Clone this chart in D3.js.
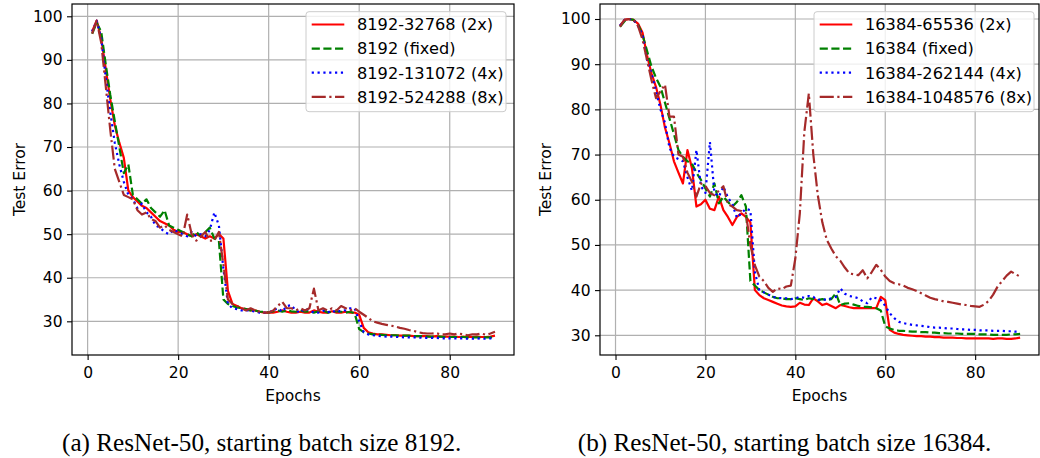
<!DOCTYPE html>
<html>
<head>
<meta charset="utf-8">
<script src="https://cdn.jsdelivr.net/npm/d3@7.9.0/dist/d3.min.js"></script>
<style>
  html, body { margin: 0; padding: 0; background: #fff; }
  svg { display: block; }
  .tick text { font-family: 'DejaVu Sans', sans-serif; font-size: 15.5px; fill: #000; }
</style>
</head>
<body>
<svg id="chart" width="1040" height="458"></svg>
<script>
// epochs 1..90
const epochs = d3.range(1, 91);
const yTicks = [30, 40, 50, 60, 70, 80, 90, 100];
const xTicks = [0, 20, 40, 60, 80];

// (a) starting batch size 8192
const a2x = [
  96.5, 99, 95, 88, 81, 75, 71, 67.5, 60, 58.5,
  57.5, 56.5, 56, 55, 54, 53, 52.5, 52, 51, 50.5,
  50.5, 50, 49.5, 50, 49.5, 49, 49.5, 49, 50, 49,
  37, 34, 33.5, 33, 32.8, 32.5, 32.5, 32.2, 32, 32,
  32, 32.2, 32.5, 32.2, 32, 32, 32.2, 32, 32, 32.5,
  32.2, 32, 32, 32.3, 32, 32, 32.2, 32, 32, 31.5,
  28.5, 27.5, 27.2, 27, 27, 26.9, 26.8, 26.8, 26.7, 26.7,
  26.7, 26.6, 26.6, 26.6, 26.6, 26.5, 26.6, 26.5, 26.5, 26.5,
  26.5, 26.4, 26.5, 26.4, 26.4, 26.5, 26.4, 26.4, 26.5, 26.7
];
const aFixed = [
  96, 98.5, 96.5, 89, 82, 76, 70, 64, 66, 59,
  58, 57, 58, 56, 55, 54, 55.5, 52, 51.5, 51,
  50.5, 50, 49.5, 50.5, 49.5, 50.5, 51.5, 49, 48.5, 35,
  34, 33.5, 33.2, 33, 32.8, 32.5, 32.5, 32.2, 32.2, 32,
  32.3, 32.5, 32.2, 32.5, 32.3, 32.2, 32.5, 32.2, 32.3, 32,
  32.3, 32.5, 32, 32.2, 32.3, 32.2, 32, 32.2, 31.8, 28.2,
  27.5, 27.2, 27, 27, 26.9, 26.8, 26.8, 26.8, 26.7, 26.7,
  26.7, 26.6, 26.6, 26.6, 26.5, 26.5, 26.5, 26.5, 26.4, 26.4,
  26.4, 26.4, 26.4, 26.3, 26.3, 26.3, 26.3, 26.3, 26.3, 26.3
];
const a4x = [
  96.5, 99, 95, 86, 78, 71, 66, 62, 59, 58,
  56, 57, 55, 54, 52, 51.5, 50.5, 50, 51, 50.5,
  50, 49.5, 50.5, 49.5, 50, 49.5, 51, 55, 52, 42,
  34, 33, 32.8, 32.5, 32.5, 32.5, 32.2, 32, 32, 32,
  32.5, 33, 32.2, 33.5, 33.7, 32.5, 32, 33, 32.5, 32,
  32, 32.5, 32, 32.5, 32, 32.5, 32.5, 33, 33, 30,
  27.5, 27, 26.8, 26.7, 26.6, 26.5, 26.5, 26.4, 26.4, 26.3,
  26.3, 26.3, 26.3, 26.2, 26.2, 26.2, 26.2, 26.1, 26.1, 26.1,
  26.1, 26.1, 26.1, 26, 26, 26.1, 26, 26, 26.1, 26.1
];
const a8x = [
  96, 99, 94, 84, 74, 65, 62, 59, 58.5, 58,
  55.5, 54.5, 55, 53.5, 53, 51.5, 52, 51, 50.5, 50,
  49.5, 54.5, 50, 48.5, 49.5, 50.5, 48.5, 48.5, 50.5, 43,
  35, 34, 33.5, 33, 32.5, 33, 32.5, 32.2, 32, 32,
  32.5, 33.5, 34.5, 33, 33, 32.5, 33, 32.5, 33, 37.5,
  32.5, 33, 32.5, 33, 32.5, 33.5, 33, 32.5, 33, 32.2,
  31.5, 30.8, 30, 29.7, 29.4, 29.2, 29, 28.8, 28.5, 28.3,
  28, 27.8, 27.5, 27.3, 27.2, 27.2, 27.3, 27, 27, 27.2,
  27, 27.2, 27, 26.8, 27, 27, 27.2, 26.9, 27.2, 27.6
];

// (b) starting batch size 16384
const b2x = [
  98.5, 99.8, 100, 99.8, 99, 97, 92, 88, 85, 81,
  76, 72.5, 68.5, 66, 63.6, 71, 67, 58.5, 59, 60,
  58, 57.7, 60.7, 57.7, 56.2, 54.4, 56.2, 57, 56.2, 55,
  40, 38.9, 38.2, 37.8, 37.4, 37, 36.6, 36.4, 36.3, 36.4,
  37.2, 36.8, 36.7, 38.2, 37.5, 36.7, 37, 36.5, 36, 36.7,
  36.5, 36.2, 36, 36, 36, 36, 36, 36, 38.5, 37.8,
  31.2, 30.6, 30.3, 30.1, 30, 29.9, 29.8, 29.8, 29.7, 29.7,
  29.6, 29.6, 29.5, 29.5, 29.5, 29.4, 29.4, 29.3, 29.3, 29.3,
  29.3, 29.3, 29.3, 29.2, 29.3, 29.3, 29.2, 29.2, 29.3, 29.5
];
const bFixed = [
  98.3, 99.5, 100, 99.8, 98.8, 96.5, 93, 89.5, 87, 85,
  81.5, 78, 74.5, 71, 69.5, 68.5, 68, 66, 64.4, 62.5,
  60.7, 63.6, 59.2, 60.7, 59.5, 58.5, 59.5, 61, 58.5, 42,
  41, 40, 39.5, 39, 38.5, 38.2, 38.2, 38, 38, 38.2,
  38, 37.8, 38.2, 38, 37.8, 38, 37.8, 38, 39.3, 36.7,
  37, 37.1, 36.8, 36.5, 36.3, 36.3, 36.2, 36, 35.5, 32,
  31.5, 31.2, 31, 31, 30.9, 30.8, 30.8, 30.7, 30.7, 30.6,
  30.6, 30.5, 30.5, 30.4, 30.4, 30.4, 30.3, 30.3, 30.3, 30.3,
  30.2, 30.2, 30.2, 30.1, 30.1, 30.1, 30.1, 30.2, 30.2, 30.3
];
const b4x = [
  98.5, 99.8, 100, 99.8, 98.5, 96.5, 91, 88, 84, 80,
  77, 71.5, 69.5, 69, 68.5, 65, 62, 71, 63, 61.5,
  72.8, 61.5, 60.7, 62.9, 60.5, 59, 56, 57, 58, 57.7,
  44, 40, 39.5, 39, 38.5, 38.3, 38.2, 38.2, 38, 38.2,
  38.5, 38.3, 38.7, 38.5, 37.8, 38, 37.8, 38.2, 38.5, 40.4,
  39.2, 38.7, 38.5, 38.2, 37.5, 37.1, 38.4, 38.2, 37.8, 36.5,
  34.9, 33.8, 33, 32.7, 32.5, 32.3, 32.2, 32.1, 32, 31.8,
  31.7, 31.7, 31.6, 31.5, 31.5, 31.4, 31.3, 31.3, 31.2, 31.2,
  31.1, 31.1, 31.1, 31, 31, 31, 30.9, 30.9, 30.8, 30.8
];
const b8x = [
  98.3, 99.8, 100, 99.8, 98.5, 95.5, 91, 86.5, 82.5, 84,
  85.5, 78.4, 78.4, 70, 69.5, 66, 64, 60.7, 63.6, 63,
  61.5, 61, 62, 63, 59, 58.5, 57.7, 57.5, 57, 50,
  45.5, 43, 42, 40.5, 39.6, 40.4, 40.2, 40.8, 41, 47,
  57, 75, 83.5, 70, 61, 55, 51.1, 49.2, 47.5, 46.5,
  45, 43.7, 43.5, 43.3, 44.4, 42.6, 44, 45.6, 44.5, 43,
  42, 41.5, 41.3, 41, 40.5, 40.2, 39.8, 39.3, 38.8, 38.3,
  38, 37.8, 37.5, 37.4, 37.2, 37, 36.8, 36.7, 36.5, 36.4,
  36.3, 36.8, 37.6, 39, 40.8, 42, 43.2, 44.1, 43.5, 43
];

const namesA = ['8192-32768 (2x)', '8192 (fixed)', '8192-131072 (4x)', '8192-524288 (8x)'];
const namesB = ['16384-65536 (2x)', '16384 (fixed)', '16384-262144 (4x)', '16384-1048576 (8x)'];
const colors = ['#ff0000', '#008000', '#0000ff', '#a52a2a'];
const lw = 2.2;
const dashes = [null, `${3.7 * lw},${1.6 * lw}`, `${1 * lw},${1.65 * lw}`,
  `${6.4 * lw},${1.6 * lw},${1 * lw},${1.6 * lw}`];

const svg = d3.select('#chart');

function drawPanel(p) {
  const x = d3.scaleLinear().domain([-3.45, 94.2]).range([p.left, p.right]);
  const y = d3.scaleLinear().domain(p.yDomain).range([p.bottom, p.top]);
  const g = svg.append('g');

  // grid
  g.append('g').selectAll('line').data(xTicks).join('line')
    .attr('x1', d => x(d)).attr('x2', d => x(d))
    .attr('y1', p.top).attr('y2', p.bottom)
    .attr('stroke', '#b0b0b0').attr('stroke-width', 1.2);
  g.append('g').selectAll('line').data(yTicks).join('line')
    .attr('x1', p.left).attr('x2', p.right)
    .attr('y1', d => y(d)).attr('y2', d => y(d))
    .attr('stroke', '#b0b0b0').attr('stroke-width', 1.2);

  // lines
  const line = d3.line().x((d, i) => x(epochs[i])).y(d => y(d));
  const clipId = 'clip-' + p.id;
  svg.append('clipPath').attr('id', clipId).append('rect')
    .attr('x', p.left).attr('y', p.top)
    .attr('width', p.right - p.left).attr('height', p.bottom - p.top);
  const lines = g.append('g').attr('clip-path', `url(#${clipId})`);
  p.series.forEach((s, k) => {
    lines.append('path')
      .attr('d', line(s))
      .attr('fill', 'none')
      .attr('stroke', colors[k])
      .attr('stroke-width', lw)
      .attr('stroke-linejoin', 'round')
      .attr('stroke-dasharray', dashes[k]);
  });

  // axes
  g.append('g')
    .attr('transform', `translate(0,${p.bottom})`)
    .call(d3.axisBottom(x).tickValues(xTicks).tickSize(5).tickPadding(7))
    .call(a => a.select('.domain').remove())
    .call(a => a.selectAll('.tick line').attr('stroke', '#000').attr('stroke-width', 1.1));
  g.append('g')
    .attr('transform', `translate(${p.left},0)`)
    .call(d3.axisLeft(y).tickValues(yTicks).tickSize(5).tickPadding(4.5))
    .call(a => a.select('.domain').remove())
    .call(a => a.selectAll('.tick line').attr('stroke', '#000').attr('stroke-width', 1.1));

  // frame
  g.append('rect')
    .attr('x', p.left).attr('y', p.top)
    .attr('width', p.right - p.left).attr('height', p.bottom - p.top)
    .attr('fill', 'none').attr('stroke', '#000').attr('stroke-width', 1.2);

  // axis labels
  g.append('text')
    .attr('x', (p.left + p.right) / 2).attr('y', 401)
    .attr('text-anchor', 'middle')
    .style('font-family', 'DejaVu Sans').style('font-size', '15.5px')
    .text('Epochs');
  g.append('text')
    .attr('transform', `translate(${p.yLabelX},${(p.top + p.bottom) / 2}) rotate(-90)`)
    .attr('text-anchor', 'middle')
    .style('font-family', 'DejaVu Sans').style('font-size', '15.5px')
    .text('Test Error');

  // legend
  const lg = g.append('g').attr('transform', `translate(${p.legendX},11.7)`);
  lg.append('rect')
    .attr('width', p.legendW).attr('height', 100)
    .attr('rx', 3)
    .attr('fill', '#fff').attr('fill-opacity', 0.8)
    .attr('stroke', '#cccccc').attr('stroke-width', 1);
  p.names.forEach((name, k) => {
    const yy = 12.8 + k * 24.1;
    lg.append('line')
      .attr('x1', 5.7).attr('x2', 38.3).attr('y1', yy).attr('y2', yy)
      .attr('stroke', colors[k]).attr('stroke-width', lw)
      .attr('stroke-dasharray', dashes[k]);
    lg.append('text')
      .attr('x', 51).attr('y', yy).attr('dy', '0.36em')
      .style('font-family', 'DejaVu Sans').style('font-size', '16.2px')
      .text(name);
  });

  // caption
  svg.append('text')
    .attr('x', p.captionX).attr('y', 450.5)
    .attr('text-anchor', 'middle')
    .style('font-family', 'Liberation Serif').style('font-size', '25.2px')
    .text(p.caption);
}

drawPanel({
  id: 'a', left: 72, right: 514, top: 4, bottom: 355,
  yDomain: [22.27, 102.82], yLabelX: 25,
  series: [a2x, aFixed, a4x, a8x], names: namesA,
  legendX: 306, legendW: 200,
  captionX: 261.7, caption: '(a) ResNet-50, starting batch size 8192.'
});
drawPanel({
  id: 'b', left: 600, right: 1039, top: 4, bottom: 355,
  yDomain: [25.64, 103.32], yLabelX: 551,
  series: [b2x, bFixed, b4x, b8x], names: namesB,
  legendX: 814, legendW: 220,
  captionX: 784.5, caption: '(b) ResNet-50, starting batch size 16384.'
});
</script>
</body>
</html>
